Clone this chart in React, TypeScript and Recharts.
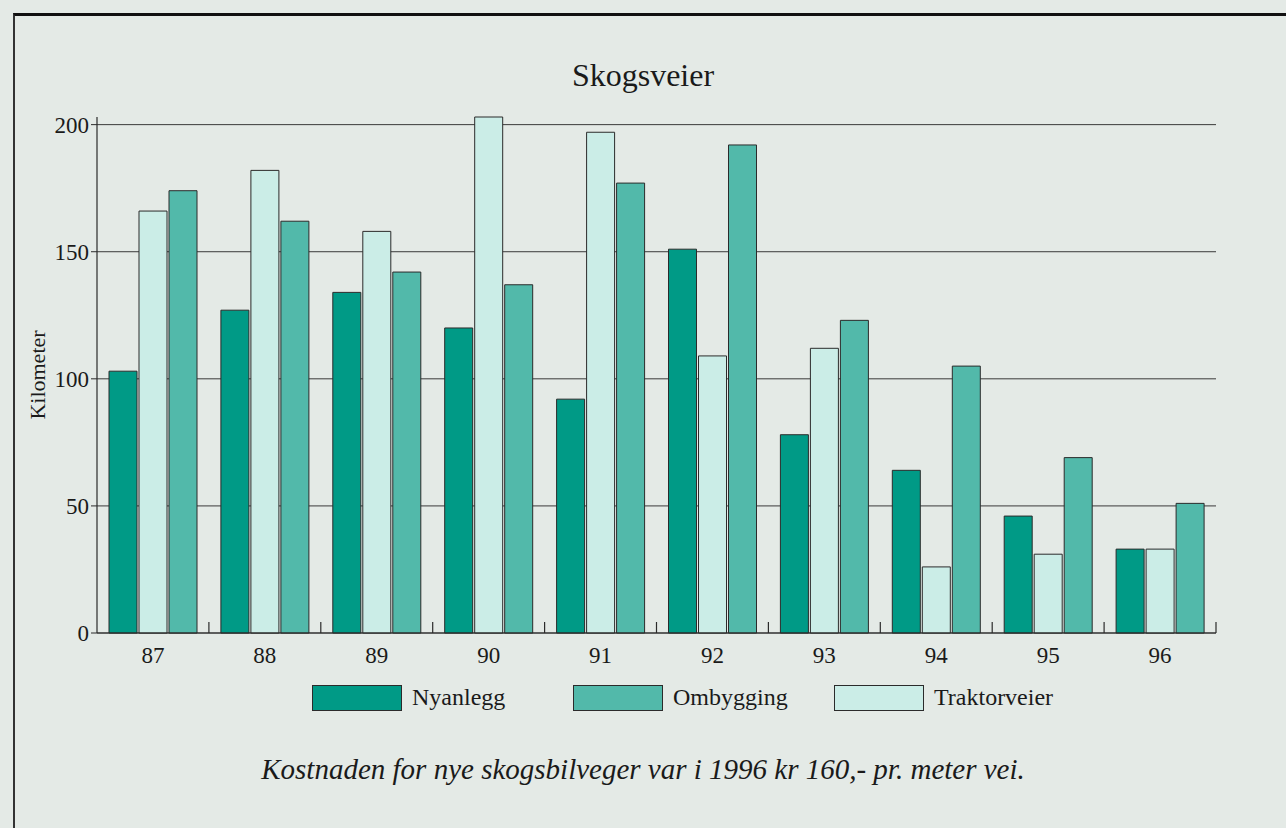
import { BarChart, Bar, XAxis, YAxis, CartesianGrid, Legend } from "recharts";

const years = ["87", "88", "89", "90", "91", "92", "93", "94", "95", "96"];
const nyanlegg = [103, 127, 134, 120, 92, 151, 78, 64, 46, 33];
const traktorveier = [166, 182, 158, 203, 197, 109, 112, 26, 31, 33];
const ombygging = [174, 162, 142, 137, 177, 192, 123, 105, 69, 51];
const yTicks = [0, 50, 100, 150, 200];

const legendItems = [
  { name: "Nyanlegg", color: "#009a86" },
  { name: "Ombygging", color: "#52b9aa" },
  { name: "Traktorveier", color: "#cbede7" },
];

const data = years.map((year, i) => ({
  year,
  nyanlegg: nyanlegg[i],
  traktorveier: traktorveier[i],
  ombygging: ombygging[i],
}));

const W = 1286;
const H = 828;
const MARGIN = { top: 117, right: 70, bottom: 155, left: 20 };
const Y_AXIS_W = 77;
const PLOT_W = W - MARGIN.left - MARGIN.right - Y_AXIS_W;
const BAND = PLOT_W / years.length;
const FONT = '"Liberation Serif", "Times New Roman", serif';
const INK = "#2b2b2b";

function YearTick({ x, y, payload }: { x: number; y: number; payload: { value: string } }) {
  const bx = x + BAND / 2;
  return (
    <g>
      <line x1={bx} x2={bx} y1={y} y2={y - 11} stroke={INK} strokeWidth={1.2} />
      <text x={x} y={y} dy={30} textAnchor="middle" fontFamily={FONT} fontSize={23} fill="#1a1a1a">
        {payload.value}
      </text>
    </g>
  );
}

function LegendBox() {
  return (
    <div style={{ display: "flex", fontFamily: FONT }}>
      {legendItems.map((item) => (
        <div key={item.name} style={{ width: 261, display: "flex", alignItems: "center" }}>
          <span
            style={{
              display: "inline-block",
              width: 88,
              height: 24,
              background: item.color,
              border: `1px solid ${INK}`,
            }}
          />
          <span style={{ marginLeft: 10, fontSize: 24, color: "#1a1a1a" }}>{item.name}</span>
        </div>
      ))}
    </div>
  );
}

export default function App() {
  return (
    <div
      style={{
        position: "absolute",
        left: 0,
        top: 0,
        width: W,
        height: H,
        overflow: "hidden",
        background: "#e4eae6",
      }}
    >
      <div
        style={{
          position: "absolute",
          left: 13,
          top: 13,
          width: W,
          height: H,
          borderTop: "3px solid #111",
          borderLeft: "2px solid #333",
        }}
      />
      <div
        style={{
          position: "absolute",
          left: 0,
          top: 57,
          width: W,
          textAlign: "center",
          fontFamily: FONT,
          fontSize: 32,
          lineHeight: "36px",
          color: "#1a1a1a",
        }}
      >
        Skogsveier
      </div>
      <div
        style={{
          position: "absolute",
          left: 38,
          top: 375,
          transform: "translate(-50%, -50%) rotate(-90deg)",
          fontFamily: FONT,
          fontSize: 22,
          color: "#1a1a1a",
          whiteSpace: "nowrap",
        }}
      >
        Kilometer
      </div>
      <BarChart
        width={W}
        height={H}
        data={data}
        margin={MARGIN}
        barCategoryGap={12}
        barGap={2}
        style={{ position: "absolute", left: 0, top: 0 }}
      >
        <CartesianGrid
          horizontal
          vertical={false}
          horizontalValues={yTicks}
          stroke="#3a3a3a"
          strokeWidth={1}
        />
        <XAxis
          dataKey="year"
          height={40}
          tickSize={0}
          tickMargin={0}
          tickLine={false}
          axisLine={{ stroke: INK, strokeWidth: 1.2 }}
          tick={(p: any) => <YearTick {...p} />}
          interval={0}
        />
        <YAxis
          width={Y_AXIS_W}
          domain={[0, "dataMax"]}
          ticks={yTicks}
          tickSize={6}
          tickMargin={2}
          tickLine={{ stroke: INK }}
          axisLine={{ stroke: INK, strokeWidth: 1.2 }}
          tick={{ fontFamily: FONT, fontSize: 23, fill: "#1a1a1a" }}
        />
        <Legend
          layout="horizontal"
          verticalAlign="middle"
          wrapperStyle={{ left: 312, top: 684, width: 800 }}
          content={() => <LegendBox />}
        />
        <Bar dataKey="nyanlegg" name="Nyanlegg" fill="#009a86" stroke={INK} strokeWidth={1} isAnimationActive={false} />
        <Bar dataKey="traktorveier" name="Traktorveier" fill="#cbede7" stroke={INK} strokeWidth={1} isAnimationActive={false} />
        <Bar dataKey="ombygging" name="Ombygging" fill="#52b9aa" stroke={INK} strokeWidth={1} isAnimationActive={false} />
      </BarChart>
      <div
        style={{
          position: "absolute",
          left: 0,
          top: 752,
          width: W,
          textAlign: "center",
          fontFamily: FONT,
          fontStyle: "italic",
          fontSize: 29,
          lineHeight: "34px",
          color: "#1a1a1a",
        }}
      >
        Kostnaden for nye skogsbilveger var i 1996 kr 160,- pr. meter vei.
      </div>
    </div>
  );
}
